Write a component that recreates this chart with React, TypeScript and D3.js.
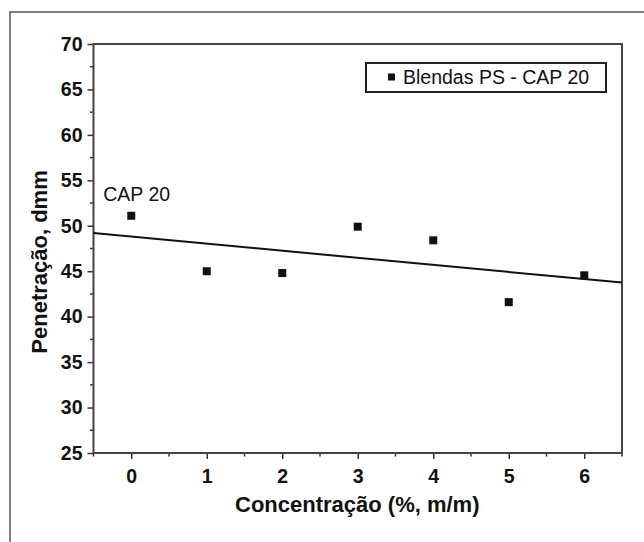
import { useEffect, useRef } from "react";
import * as d3 from "d3";

// concentration (%, m/m) and penetration (dmm)
const concentration = [0, 1, 2, 3, 4, 5, 6];
const penetration = [51.1, 45.0, 44.8, 49.9, 48.4, 41.6, 44.55];

// end points of the fitted line as drawn
const fitX = [-0.5, 6.5];
const fitY = [49.2, 43.75];

const xTicks = [0, 1, 2, 3, 4, 5, 6];
const yTicks = [25, 30, 35, 40, 45, 50, 55, 60, 65, 70];

const seriesName = "Blendas PS - CAP 20";
const pointLabel = "CAP 20";

const App = () => {
  const svgRef = useRef<SVGSVGElement | null>(null);

  useEffect(() => {
    const svg = d3.select(svgRef.current);
    svg.selectAll("*").remove();

    const font = "'Liberation Sans', Arial, sans-serif";
    const margin = { top: 44, left: 93.5 };
    const width = 528.5,
      height = 409;

    const x = d3.scaleLinear().domain([-0.5, 6.5]).range([0, width]);
    const y = d3.scaleLinear().domain([25, 70]).range([height, 0]);

    // outer figure frame
    svg
      .append("rect")
      .attr("x", 10)
      .attr("y", 12)
      .attr("width", 700)
      .attr("height", 600)
      .attr("fill", "none")
      .attr("stroke", "#555")
      .attr("stroke-width", 1.5);

    const g = svg
      .append("g")
      .attr("transform", `translate(${margin.left},${margin.top})`);

    // minor ticks
    const yMinor = d3.range(27.5, 70, 5);
    g.selectAll(".ymin")
      .data(yMinor)
      .enter()
      .append("line")
      .attr("x1", -3.5)
      .attr("x2", 0)
      .attr("y1", (d) => y(d))
      .attr("y2", (d) => y(d))
      .attr("stroke", "#333")
      .attr("stroke-width", 1.5);

    const xMinor = d3.range(-0.5, 6.6, 0.5).filter((d) => !Number.isInteger(d));
    g.selectAll(".xmin")
      .data(xMinor)
      .enter()
      .append("line")
      .attr("x1", (d) => x(d))
      .attr("x2", (d) => x(d))
      .attr("y1", height)
      .attr("y2", height + 3.5)
      .attr("stroke", "#333")
      .attr("stroke-width", 1.5);

    // y axis
    const yAxis = g
      .append("g")
      .call(
        d3.axisLeft(y).tickValues(yTicks).tickFormat(d3.format("d")).tickSize(6).tickPadding(5).tickSizeOuter(0)
      );
    yAxis.select(".domain").remove();
    yAxis.selectAll(".tick line").attr("stroke", "#333").attr("stroke-width", 1.5);
    yAxis
      .selectAll(".tick text")
      .style("font-family", font)
      .style("font-size", "19.5px")
      .style("font-weight", "bold")
      .attr("fill", "#111");

    // x axis
    const xAxis = g
      .append("g")
      .attr("transform", `translate(0,${height})`)
      .call(
        d3.axisBottom(x).tickValues(xTicks).tickFormat(d3.format("d")).tickSize(6).tickPadding(10).tickSizeOuter(0)
      );
    xAxis.select(".domain").remove();
    xAxis.selectAll(".tick line").attr("stroke", "#333").attr("stroke-width", 1.5);
    xAxis
      .selectAll(".tick text")
      .style("font-family", font)
      .style("font-size", "19.5px")
      .style("font-weight", "bold")
      .attr("fill", "#111");

    // plot frame
    g.append("rect")
      .attr("width", width)
      .attr("height", height)
      .attr("fill", "none")
      .attr("stroke", "#444")
      .attr("stroke-width", 2);

    // fitted line
    const line = d3
      .line<number>()
      .x((d) => x(d))
      .y((_, i) => y(fitY[i]));
    g.append("path")
      .attr("d", line(fitX))
      .attr("fill", "none")
      .attr("stroke", "#111")
      .attr("stroke-width", 2);

    // points
    const s = 8;
    g.selectAll(".pt")
      .data(concentration)
      .enter()
      .append("rect")
      .attr("x", (d) => x(d) - s / 2)
      .attr("y", (_, i) => y(penetration[i]) - s / 2)
      .attr("width", s)
      .attr("height", s)
      .attr("fill", "#111");

    g.append("text")
      .attr("x", x(concentration[0]) - 28)
      .attr("y", y(penetration[0]) - 15)
      .style("font-family", font)
      .style("font-size", "19.5px")
      .attr("fill", "#111")
      .text(pointLabel);

    // legend
    const legend = g.append("g").attr("transform", `translate(${366 - margin.left},${63 - margin.top})`);
    legend
      .append("rect")
      .attr("width", 240)
      .attr("height", 29)
      .attr("fill", "white")
      .attr("stroke", "#222")
      .attr("stroke-width", 2);
    legend
      .append("rect")
      .attr("x", 22)
      .attr("y", 10.5)
      .attr("width", 7)
      .attr("height", 7)
      .attr("fill", "#111");
    legend
      .append("text")
      .attr("x", 37)
      .attr("y", 21)
      .style("font-family", font)
      .style("font-size", "19.5px")
      .attr("fill", "#111")
      .text(seriesName);

    // axis titles
    svg
      .append("text")
      .attr("x", margin.left + width / 2 - 0.5)
      .attr("y", 512)
      .attr("text-anchor", "middle")
      .style("font-family", font)
      .style("font-size", "22px")
      .style("font-weight", "bold")
      .attr("fill", "#111")
      .text("Concentração (%, m/m)");

    svg
      .append("text")
      .attr("transform", `translate(47,262) rotate(-90)`)
      .attr("text-anchor", "middle")
      .style("font-family", font)
      .style("font-size", "22px")
      .style("font-weight", "bold")
      .attr("fill", "#111")
      .text("Penetração, dmm");
  }, []);

  return (
    <svg
      ref={svgRef}
      width={644}
      height={542}
      style={{ position: "absolute", left: 0, top: 0, background: "white" }}
    ></svg>
  );
};

export default App;
